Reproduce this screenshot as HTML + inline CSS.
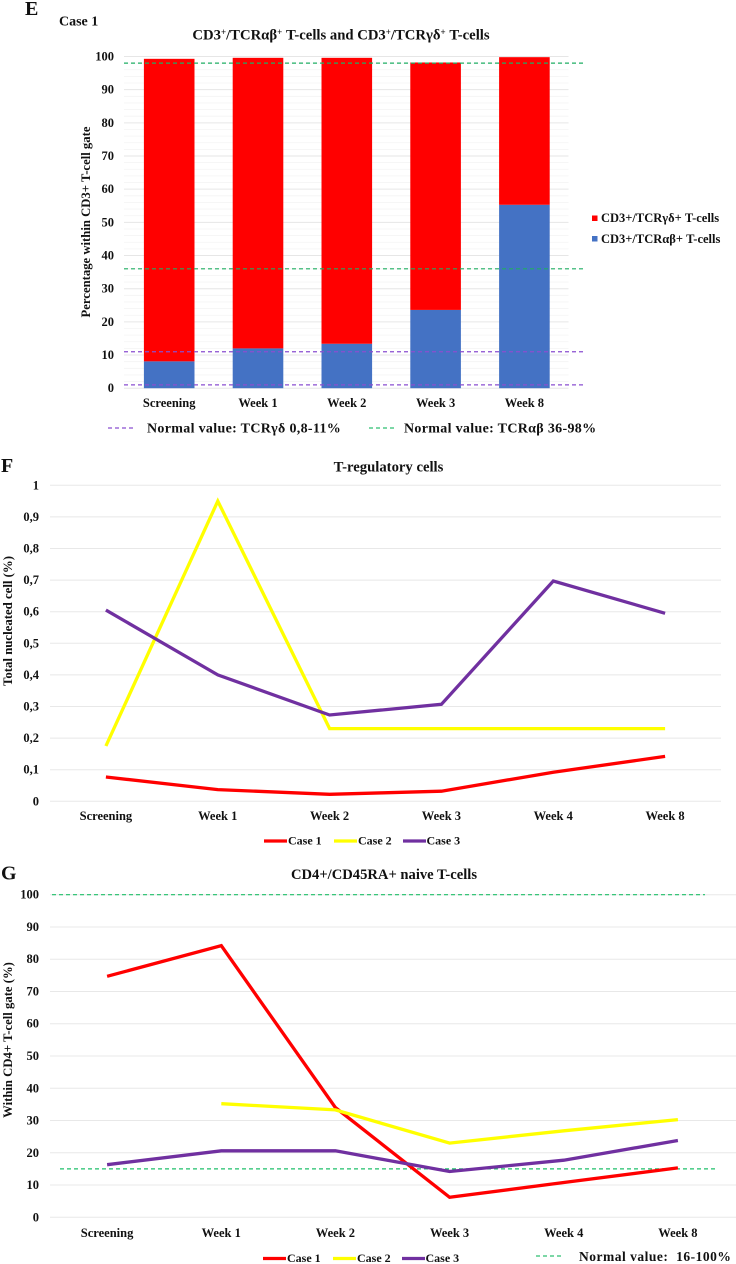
<!DOCTYPE html>
<html lang="en">
<head>
<meta charset="utf-8">
<title>T-cell charts</title>
<style>
html,body{margin:0;padding:0;background:#fff;}
svg{display:block;filter:blur(0.35px);}
text{font-family:"Liberation Serif","DejaVu Serif",serif;font-weight:bold;fill:#111;}
</style>
</head>
<body>
<svg id="figure" xmlns="http://www.w3.org/2000/svg" width="736" height="1264" viewBox="0 0 736 1264">
  <g id="panel-e">
    <text x="25" y="15" font-size="20">E</text>
    <text x="59" y="25.500" font-size="14">Case 1</text>
    <text x="341" y="39.500" font-size="14.700" text-anchor="middle">CD3<tspan font-size="9" dy="-4.500">+</tspan><tspan dy="4.500">/TCRαβ</tspan><tspan font-size="9" dy="-4.500">+</tspan><tspan dy="4.500"> T-cells and CD3</tspan><tspan font-size="9" dy="-4.500">+</tspan><tspan dy="4.500">/TCRγδ</tspan><tspan font-size="9" dy="-4.500">+</tspan><tspan dy="4.500"> T-cells</tspan></text>
    <text transform="translate(90,222) rotate(-90)" font-size="12.700" text-anchor="middle">Percentage within CD3+ T-cell gate</text>
    <g id="e-grid"></g>
    <g id="e-bars"></g>
    <g id="e-refs"></g>
    <g id="e-labels"></g>
    <rect x="592" y="215.500" width="5.500" height="5.500" fill="#ff0000"/>
    <text x="601" y="222" font-size="12.500">CD3+/TCRγδ+ T-cells</text>
    <rect x="592" y="236" width="5.500" height="5.500" fill="#4472c4"/>
    <text x="601" y="243" font-size="12.500">CD3+/TCRαβ+ T-cells</text>
    <line x1="108" y1="428" x2="135" y2="428" stroke="#8a4fd0" stroke-width="1.200" stroke-dasharray="4 3"/>
    <text x="147" y="432.500" font-size="14" letter-spacing="0.32">Normal value: TCRγδ 0,8-11%</text>
    <line x1="369" y1="428" x2="396" y2="428" stroke="#2fbf71" stroke-width="1.200" stroke-dasharray="4 3"/>
    <text x="404" y="432.500" font-size="14" letter-spacing="0.32">Normal value: TCRαβ 36-98%</text>
  </g>
  <g id="panel-f">
    <text x="1" y="472" font-size="20">F</text>
    <text x="388.500" y="471.500" font-size="14.700" text-anchor="middle">T-regulatory cells</text>
    <text transform="translate(12,621) rotate(-90)" font-size="12.800" text-anchor="middle">Total nucleated cell (%)</text>
    <g id="f-grid"></g>
    <g id="f-lines"></g>
    <g id="f-labels"></g>
    <line x1="264" y1="841" x2="287" y2="841" stroke="#ff0000" stroke-width="3.300"/>
    <text x="288" y="844.500" font-size="12">Case 1</text>
    <line x1="334" y1="841" x2="357" y2="841" stroke="#ffff00" stroke-width="3.300"/>
    <text x="358" y="844.500" font-size="12">Case 2</text>
    <line x1="403" y1="841" x2="426" y2="841" stroke="#7030a0" stroke-width="3.300"/>
    <text x="426.500" y="844.500" font-size="12">Case 3</text>
  </g>
  <g id="panel-g">
    <text x="1" y="879.500" font-size="20">G</text>
    <text x="384" y="879" font-size="14.600" text-anchor="middle">CD4+/CD45RA+ naive T-cells</text>
    <text transform="translate(12,1040) rotate(-90)" font-size="12.700" text-anchor="middle">Within CD4+ T-cell gate (%)</text>
    <g id="g-grid"></g>
    <g id="g-refs"></g>
    <g id="g-lines"></g>
    <g id="g-labels"></g>
    <line x1="263" y1="1258.500" x2="286" y2="1258.500" stroke="#ff0000" stroke-width="3.300"/>
    <text x="287" y="1262" font-size="12">Case 1</text>
    <line x1="333" y1="1258.500" x2="356" y2="1258.500" stroke="#ffff00" stroke-width="3.300"/>
    <text x="357" y="1262" font-size="12">Case 2</text>
    <line x1="402" y1="1258.500" x2="425" y2="1258.500" stroke="#7030a0" stroke-width="3.300"/>
    <text x="425.500" y="1262" font-size="12">Case 3</text>
    <line x1="536" y1="1256" x2="562" y2="1256" stroke="#2fbf71" stroke-width="1.200" stroke-dasharray="4 3"/>
    <text x="579" y="1261" font-size="13.500" letter-spacing="0.5" xml:space="preserve">Normal value:  16-100%</text>
  </g>
</svg>
<script>
var eCategories = ['Screening', 'Week 1', 'Week 2', 'Week 3', 'Week 8'];
var eTicks = [0, 10, 20, 30, 40, 50, 60, 70, 80, 90, 100];
var eMinorTicks = [2, 4, 6, 8, 12, 14, 16, 18, 22, 24, 26, 28, 32, 34, 36, 38, 42, 44, 46, 48, 52, 54, 56, 58, 62, 64, 66, 68, 72, 74, 76, 78, 82, 84, 86, 88, 92, 94, 96, 98];
var eAlphaBeta = [8.1, 12, 13.4, 23.6, 55.3];
var eGammaDelta = [91.2, 87.6, 86.2, 74.6, 44.5];
var eRefGreen = [98, 36];
var eRefPurple = [11, 1];

var fCategories = ['Screening', 'Week 1', 'Week 2', 'Week 3', 'Week 4', 'Week 8'];
var fTicks = [0, 0.1, 0.2, 0.3, 0.4, 0.5, 0.6, 0.7, 0.8, 0.9, 1];
var fTickLabels = ['0', '0,1', '0,2', '0,3', '0,4', '0,5', '0,6', '0,7', '0,8', '0,9', '1'];
var fCase1 = [0.077, 0.037, 0.022, 0.032, 0.092, 0.142];
var fCase2 = [0.175, 0.95, 0.23, 0.23, 0.23, 0.23];
var fCase3 = [0.605, 0.4, 0.273, 0.307, 0.697, 0.595];

var gCategories = ['Screening', 'Week 1', 'Week 2', 'Week 3', 'Week 4', 'Week 8'];
var gTicks = [0, 10, 20, 30, 40, 50, 60, 70, 80, 90, 100];
var gCase1 = [74.7, 84.2, 34, 6.2, 10.8, 15.3];
var gCase2 = [null, 35.2, 33.3, 23, 26.8, 30.3];
var gCase3 = [16.3, 20.6, 20.6, 14.2, 17.7, 23.8];
var gRefs = [100, 15];

var NS = 'http://www.w3.org/2000/svg';
function make(tag, parentId, props) {
  var node = document.createElementNS(NS, tag);
  for (var k in props) { node.setAttribute(k, props[k]); }
  document.getElementById(parentId).appendChild(node);
  return node;
}
function scaleLinear(v0, v1, p0, p1) {
  return function (v) { return p0 + (v - v0) / (v1 - v0) * (p1 - p0); };
}
function scaleBand(count, left, right) {
  return function (i) { return left + (right - left) * (i + 0.5) / count; };
}

var eY = scaleLinear(0, 100, 388.2, 56.5);
var eX = scaleBand(eCategories.length, 124.8, 568.8);
var fY = scaleLinear(0, 1, 801.3, 485.3);
var fX = scaleBand(fCategories.length, 50, 721);
var gY = scaleLinear(0, 100, 1217.3, 894.7);
var gX = scaleBand(gCategories.length, 50, 735);

eMinorTicks.forEach(function (t) {
  var minor = make('line', 'e-grid', { x1: 124, x2: 568.5, y1: eY(t), y2: eY(t), stroke: '#f4f4f4', 'stroke-width': 0.8 });
  
  
});
eTicks.forEach(function (t) {
  var grid = make('line', 'e-grid', { x1: 124, x2: 568.5, y1: eY(t), y2: eY(t), stroke: '#e6e6e6', 'stroke-width': 1 });
  
  
  var label = make('text', 'e-labels', { x: 114, y: eY(t) + 4, 'font-size': 12.5, 'text-anchor': 'end' });
  
  
  label.textContent = t;
});
eCategories.forEach(function (c, i) {
  var x = eX(i) - 25.3;
  var lower = make('rect', 'e-bars', { x: x, y: eY(eAlphaBeta[i]), width: 50.6, height: eY(0) - eY(eAlphaBeta[i]), fill: '#4472c4' });
  
  
  var upper = make('rect', 'e-bars', { x: x, y: eY(eAlphaBeta[i] + eGammaDelta[i]), width: 50.6, height: eY(eAlphaBeta[i]) - eY(eAlphaBeta[i] + eGammaDelta[i]), fill: '#ff0000' });
  
  
  var label = make('text', 'e-labels', { x: eX(i), y: 407, 'font-size': 12.5, 'text-anchor': 'middle' });
  
  
  label.textContent = c;
});
eRefGreen.forEach(function (v) {
  var ref = make('line', 'e-refs', { x1: 124, x2: 586, y1: eY(v), y2: eY(v), stroke: '#1fae63', 'stroke-width': 1.2, 'stroke-dasharray': '4 3' });
  
  
});
eRefPurple.forEach(function (v) {
  var ref = make('line', 'e-refs', { x1: 124, x2: 586, y1: eY(v), y2: eY(v), stroke: '#8a4fd0', 'stroke-width': 1.2, 'stroke-dasharray': '4 3' });
  
  
});

function polyPoints(values, xFn, yFn) {
  var pts = [];
  values.forEach(function (v, i) {
    if (v !== null) { pts.push(xFn(i).toFixed(1) + ',' + yFn(v).toFixed(1)); }
  });
  return pts.join(' ');
}

fTicks.forEach(function (t, i) {
  var grid = make('line', 'f-grid', { x1: 50, x2: 721, y1: fY(t), y2: fY(t), stroke: '#e8e8e8', 'stroke-width': 1 });
  
  
  var label = make('text', 'f-labels', { x: 39, y: fY(t) + 4, 'font-size': 12.5, 'text-anchor': 'end' });
  
  
  label.textContent = fTickLabels[i];
});
fCategories.forEach(function (c, i) {
  var label = make('text', 'f-labels', { x: fX(i), y: 820, 'font-size': 12.5, 'text-anchor': 'middle' });
  
  
  label.textContent = c;
});
var fLine2 = make('polyline', 'f-lines', { points: polyPoints(fCase2, fX, fY), fill: 'none', stroke: '#ffff00', 'stroke-width': 3.3 });


var fLine1 = make('polyline', 'f-lines', { points: polyPoints(fCase1, fX, fY), fill: 'none', stroke: '#ff0000', 'stroke-width': 3.3 });


var fLine3 = make('polyline', 'f-lines', { points: polyPoints(fCase3, fX, fY), fill: 'none', stroke: '#7030a0', 'stroke-width': 3.3 });



gTicks.forEach(function (t) {
  var grid = make('line', 'g-grid', { x1: 50, x2: 736, y1: gY(t), y2: gY(t), stroke: '#e8e8e8', 'stroke-width': 1 });
  
  
  var label = make('text', 'g-labels', { x: 39, y: gY(t) + 4, 'font-size': 12.5, 'text-anchor': 'end' });
  
  
  label.textContent = t;
});
gCategories.forEach(function (c, i) {
  var label = make('text', 'g-labels', { x: gX(i), y: 1237, 'font-size': 12.5, 'text-anchor': 'middle' });
  
  
  label.textContent = c;
});
gRefs.forEach(function (v, i) {
  var ref = make('line', 'g-refs', { x1: i === 0 ? 52 : 60, x2: i === 0 ? 705 : 715, y1: gY(v), y2: gY(v), stroke: '#1fbf6a', 'stroke-width': 1.2, 'stroke-dasharray': '4 3' });
  
  
});
var gLine1 = make('polyline', 'g-lines', { points: polyPoints(gCase1, gX, gY), fill: 'none', stroke: '#ff0000', 'stroke-width': 3.3 });


var gLine2 = make('polyline', 'g-lines', { points: polyPoints(gCase2, gX, gY), fill: 'none', stroke: '#ffff00', 'stroke-width': 3.3 });


var gLine3 = make('polyline', 'g-lines', { points: polyPoints(gCase3, gX, gY), fill: 'none', stroke: '#7030a0', 'stroke-width': 3.3 });


</script>
</body>
</html>
